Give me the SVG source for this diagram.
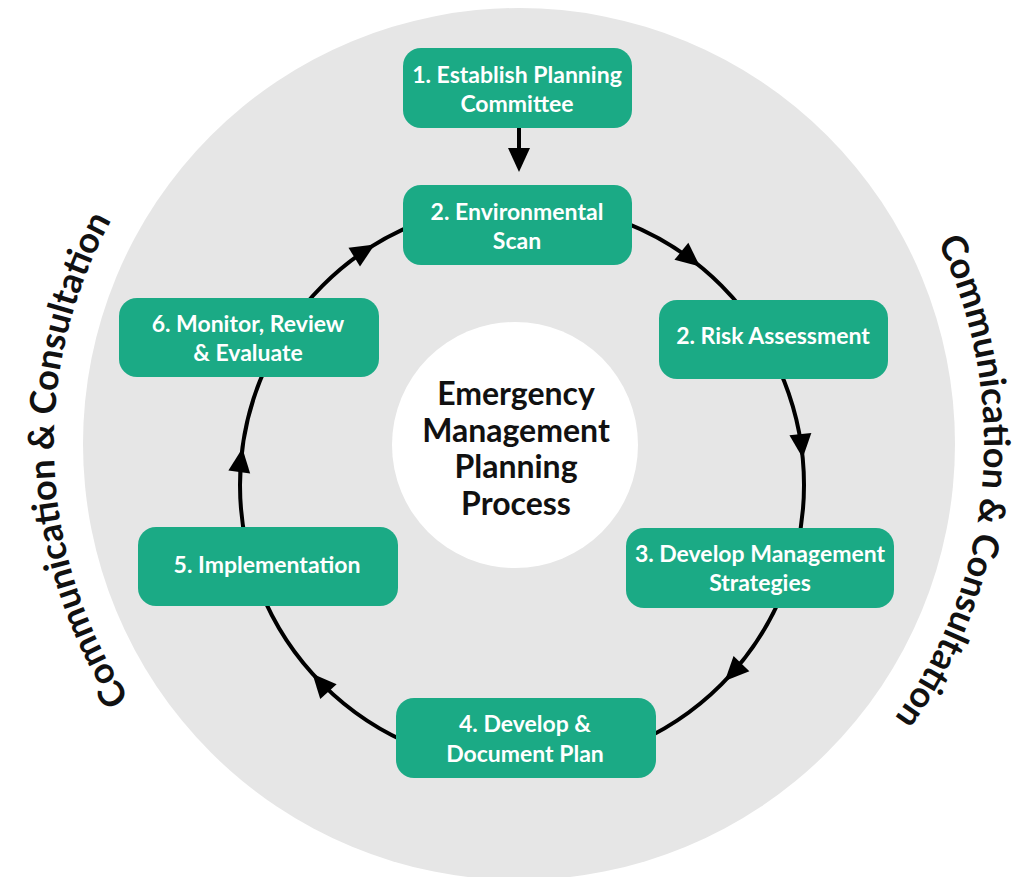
<svg xmlns="http://www.w3.org/2000/svg" xmlns:xlink="http://www.w3.org/1999/xlink" width="1019" height="877" viewBox="0 0 1019 877">
<style>
.box{fill:#1BAA85;}
.bt{font-family:Lato,"Liberation Sans",sans-serif;font-weight:700;font-size:23px;fill:#ffffff;text-anchor:middle;}
.title{font-family:Lato,"Liberation Sans",sans-serif;font-weight:700;font-size:32px;fill:#111111;text-anchor:middle;}
.side{font-family:Lato,"Liberation Sans",sans-serif;font-weight:700;font-size:36px;fill:#111111;text-anchor:middle;}
.ring{fill:none;stroke:#000000;stroke-width:4;}
.ah{fill:#000000;}
</style>
<defs>
<path id="ahead" d="M0,0 L-24,-11 L-24,11 Z"/>
<path id="leftArc" d="M286.5,846.7 A465,465 0 0 1 286.5,41.3"/>
<path id="rightArc" d="M751.5,41.3 A465,465 0 0 1 751.5,846.7"/>
</defs>
<rect width="1019" height="877" fill="#ffffff"/>
<circle cx="519" cy="444" r="436" fill="#E6E6E6"/>
<circle cx="515" cy="445" r="123" fill="#ffffff"/>
<g id="side-left">
<text class="side"><textPath href="#leftArc" startOffset="48.2%">Communication &amp; Consultation</textPath></text>
</g>
<g id="side-right">
<text class="side"><textPath href="#rightArc" startOffset="54.3%">Communication &amp; Consultation</textPath></text>
</g>
<g id="connectors">
<circle class="ring" cx="522" cy="485" r="282"/>
<line x1="519" y1="128" x2="519" y2="152" stroke="#000" stroke-width="4"/>
<use href="#ahead" class="ah" transform="translate(519,172) rotate(90)"/>
<use href="#ahead" class="ah" transform="translate(700,266.5) rotate(39.2)"/>
<use href="#ahead" class="ah" transform="translate(802.7,458) rotate(84.5)"/>
<use href="#ahead" class="ah" transform="translate(724.8,680.9) rotate(134)"/>
<use href="#ahead" class="ah" transform="translate(312.4,673.7) rotate(228)"/>
<use href="#ahead" class="ah" transform="translate(242.4,448.2) rotate(277.5)"/>
<use href="#ahead" class="ah" transform="translate(374.7,244.6) rotate(328.5)"/>
</g>
<g id="center">
<text class="title" x="516" y="405">Emergency</text>
<text class="title" x="516" y="442">Management</text>
<text class="title" x="516" y="478">Planning</text>
<text class="title" x="516" y="515">Process</text>
</g>
<g id="node1">
<rect class="box" x="403" y="48" width="229" height="80" rx="18"/>
<text class="bt" x="517" y="83">1. Establish Planning</text>
<text class="bt" x="517" y="112">Committee</text>
</g>
<g id="node2">
<rect class="box" x="403" y="185" width="229" height="80" rx="18"/>
<text class="bt" x="517" y="220">2. Environmental</text>
<text class="bt" x="517" y="249">Scan</text>
</g>
<g id="node2b">
<rect class="box" x="659" y="300" width="229" height="79" rx="18"/>
<text class="bt" x="773" y="344">2. Risk Assessment</text>
</g>
<g id="node3">
<rect class="box" x="626" y="528" width="268" height="80" rx="18"/>
<text class="bt" x="760" y="562">3. Develop Management</text>
<text class="bt" x="760" y="591">Strategies</text>
</g>
<g id="node4">
<rect class="box" x="396" y="698" width="260" height="80" rx="18"/>
<text class="bt" x="525" y="732">4. Develop &amp;</text>
<text class="bt" x="525" y="762">Document Plan</text>
</g>
<g id="node5">
<rect class="box" x="138" y="527" width="260" height="79" rx="18"/>
<text class="bt" x="267" y="573">5. Implementation</text>
</g>
<g id="node6">
<rect class="box" x="119" y="298" width="260" height="79" rx="18"/>
<text class="bt" x="248" y="332">6. Monitor, Review</text>
<text class="bt" x="248" y="361">&amp; Evaluate</text>
</g>
</svg>
